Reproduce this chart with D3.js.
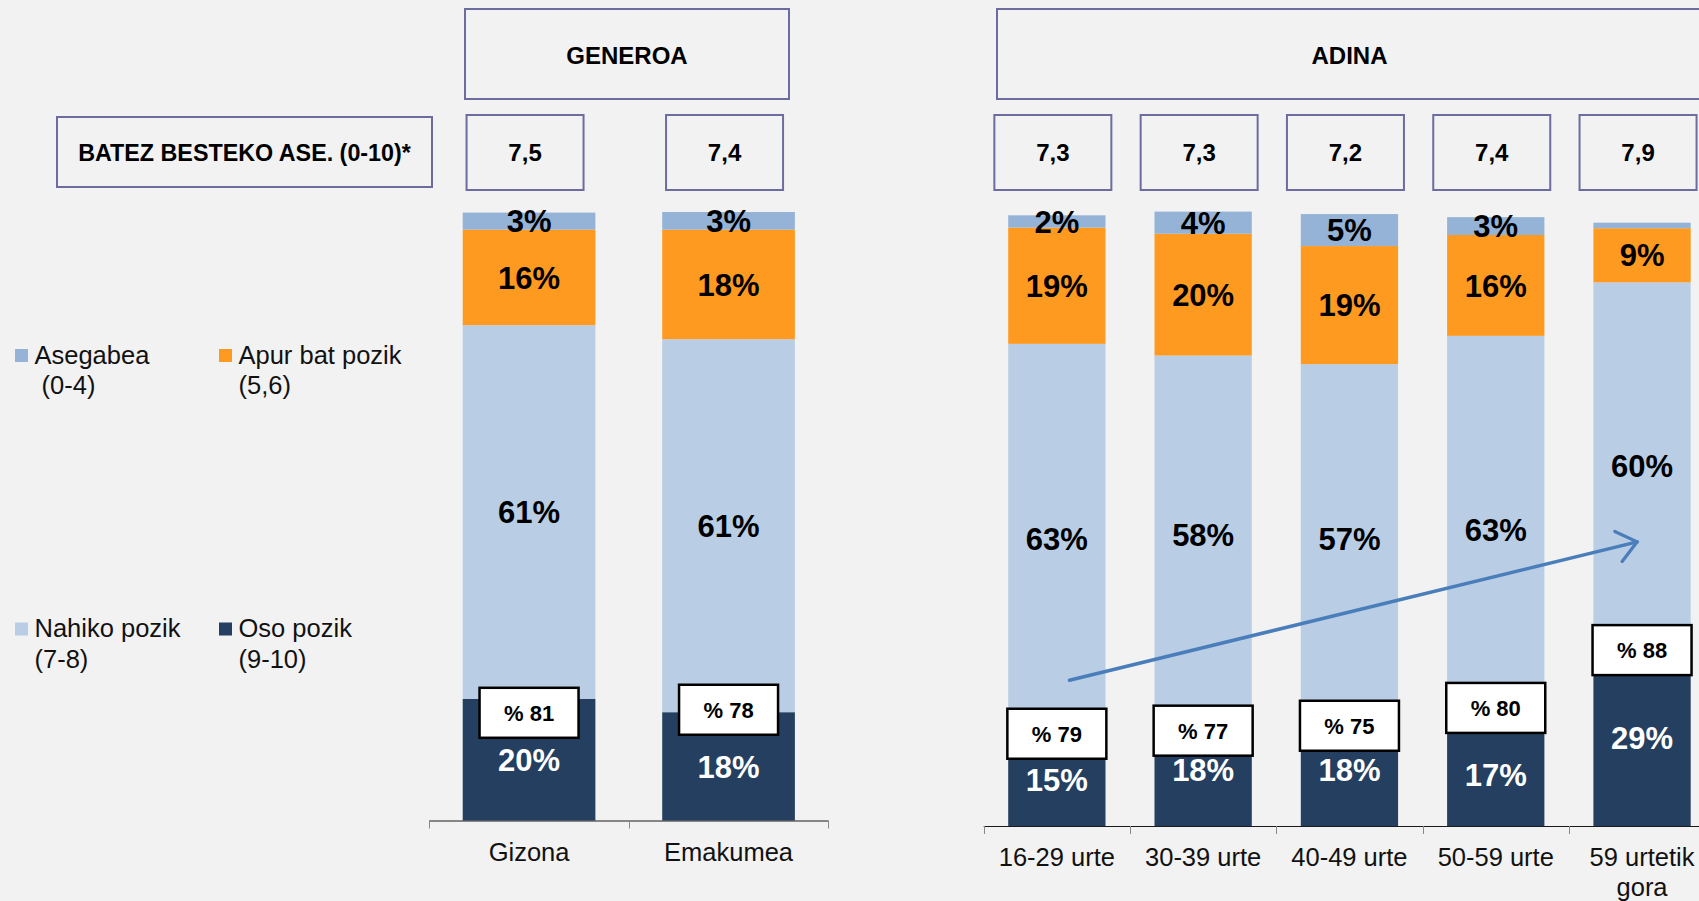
<!DOCTYPE html>
<html>
<head>
<meta charset="utf-8">
<script src="https://cdn.jsdelivr.net/npm/d3@7"></script>
<style>
  html, body { margin: 0; padding: 0; background: #F2F2F2; }
  svg { display: block; }
  text { font-family: "Liberation Sans", Arial, sans-serif; }
</style>
</head>
<body>
<svg id="chart" width="1699" height="901"></svg>
<script>
// ---------------- DATA ----------------
const seriesKeys = ["Oso pozik", "Nahiko pozik", "Apur bat pozik", "Asegabea"];

const genderCats = ["Gizona", "Emakumea"];
const genderAsegabea = [2.8, 2.9];
const genderApur = [15.7, 18.0];
const genderNahiko = [61.4, 61.3];
const genderOso = [20.0, 17.8];
const genderTotal = [81, 78];
const genderTotalAt = [17.7, 18.2];   // level (%) at which the "% NN" callout sits
const genderMean = ["7,5", "7,4"];

const ageCats = ["16-29 urte", "30-39 urte", "40-49 urte", "50-59 urte", "59 urtetik\ngora"];
const ageAsegabea = [2.0, 3.6, 5.2, 2.9, 0.9];
const ageApur = [18.9, 19.8, 19.2, 16.4, 8.8];
const ageNahiko = [63.4, 58.3, 56.8, 63.1, 59.6];
const ageOso = [15.0, 18.2, 18.3, 16.6, 28.8];
const ageTotal = [79, 77, 75, 80, 88];
const ageTotalAt = [15.0, 15.5, 16.3, 19.2, 28.6];
const ageMean = ["7,3", "7,3", "7,2", "7,4", "7,9"];

const legendItems = [
  { key: "Asegabea", l1: "Asegabea", l2: " (0-4)" },
  { key: "Apur bat pozik", l1: "Apur bat pozik", l2: "(5,6)" },
  { key: "Nahiko pozik", l1: "Nahiko pozik", l2: "(7-8)" },
  { key: "Oso pozik", l1: "Oso pozik", l2: "(9-10)" }
];

const groupTitles = ["GENEROA", "ADINA"];
const meanTitle = "BATEZ BESTEKO ASE. (0-10)*";

// ---------------- STYLE ----------------
const colors = {
  "Asegabea": "#95B3D7",
  "Apur bat pozik": "#FF9A21",
  "Nahiko pozik": "#B9CDE5",
  "Oso pozik": "#243F60"
};
const labelColor = { "Asegabea": "#000", "Apur bat pozik": "#000", "Nahiko pozik": "#000", "Oso pozik": "#fff" };
const boxStroke = "#6C6CA0";

const svg = d3.select("#chart");

function buildRows(cats, a, b, c, d) {
  return cats.map((cat, i) => ({
    cat,
    "Asegabea": a[i], "Apur bat pozik": b[i], "Nahiko pozik": c[i], "Oso pozik": d[i]
  }));
}

function drawPanel(cfg) {
  const g = svg.append("g");
  const x = d3.scaleBand().domain(cfg.cats).range(cfg.xRange)
    .paddingInner(0.335).paddingOuter(0.1675);
  const y = d3.scaleLinear().domain([0, 100]).range(cfg.yRange);
  const rows = buildRows(cfg.cats, cfg.aseg, cfg.apur, cfg.nahiko, cfg.oso);
  const stack = d3.stack().keys(seriesKeys)(rows);

  // bars
  const layers = g.selectAll("g.layer").data(stack).join("g")
    .attr("class", "layer").attr("fill", d => colors[d.key]);
  layers.selectAll("rect").data(d => d).join("rect")
    .attr("x", d => x(d.data.cat))
    .attr("width", x.bandwidth())
    .attr("y", d => y(d[1]))
    .attr("height", d => y(d[0]) - y(d[1]));

  // segment labels
  stack.forEach(layer => {
    g.selectAll(null).data(layer.filter(d => (d[1] - d[0]) >= 1.5)).join("text")
      .attr("x", d => x(d.data.cat) + x.bandwidth() / 2)
      .attr("y", d => (y(d[0]) + y(d[1])) / 2)
      .attr("dy", "0.36em")
      .attr("text-anchor", "middle")
      .attr("font-size", 31)
      .attr("font-weight", "bold")
      .attr("fill", labelColor[layer.key])
      .text(d => Math.round(d[1] - d[0]) + "%");
  });

  // axis line + boundary ticks
  const step = x.step();
  const r0 = cfg.xRange[0], r1 = cfg.xRange[1];
  const base = y(0);
  g.append("line").attr("x1", r0).attr("x2", r1).attr("y1", base + 0.5).attr("y2", base + 0.5)
    .attr("stroke", "#1a1a1a").attr("stroke-width", 1);
  d3.range(cfg.cats.length + 1).forEach(k => {
    const tx = Math.round(r0 + k * step) + 0.5;
    g.append("line").attr("x1", tx).attr("x2", tx).attr("y1", base).attr("y2", base + 8)
      .attr("stroke", "#888").attr("stroke-width", 1);
  });
  // category labels
  cfg.cats.forEach(cat => {
    const lines = cat.split("\n");
    const t = g.append("text")
      .attr("text-anchor", "middle")
      .attr("font-size", 25.5)
      .attr("fill", "#111");
    lines.forEach((ln, j) => {
      t.append("tspan").attr("x", x(cat) + x.bandwidth() / 2)
        .attr("y", cfg.labelBaseline + j * 30).text(ln);
    });
  });

  // total boxes "% NN"
  rows.forEach((r, i) => {
    const cx = x(r.cat) + x.bandwidth() / 2;
    const cy = y(cfg.totalAt[i]);
    g.append("rect").attr("x", cx - 49.5).attr("y", cy - 25).attr("width", 99).attr("height", 50)
      .attr("fill", "#fff").attr("stroke", "#000").attr("stroke-width", 2.5);
    g.append("text").attr("x", cx).attr("y", cy).attr("dy", "0.36em")
      .attr("text-anchor", "middle").attr("font-size", 22).attr("font-weight", "bold")
      .attr("fill", "#000").text("% " + cfg.totals[i]);
  });

  // mean boxes
  cfg.means.forEach((m, i) => {
    const cx = x(cfg.cats[i]) + x.bandwidth() / 2 - 4;
    g.append("rect").attr("x", cx - 58.5).attr("y", 115).attr("width", 117).attr("height", 75)
      .attr("fill", "none").attr("stroke", boxStroke).attr("stroke-width", 2);
    g.append("text").attr("x", cx).attr("y", 152.5).attr("dy", "0.36em")
      .attr("text-anchor", "middle").attr("font-size", 24).attr("font-weight", "bold")
      .attr("fill", "#000").text(m);
  });

  // group title box
  const gx0 = cfg.titleX[0], gx1 = cfg.titleX[1];
  g.append("rect").attr("x", gx0).attr("y", 9).attr("width", gx1 - gx0).attr("height", 90)
    .attr("fill", "none").attr("stroke", boxStroke).attr("stroke-width", 2);
  g.append("text").attr("x", (gx0 + gx1) / 2).attr("y", 55).attr("dy", "0.36em")
    .attr("text-anchor", "middle").attr("font-size", 24).attr("font-weight", "bold")
    .attr("fill", "#000").text(cfg.title);

  return { x, y };
}

const gScales = drawPanel({
  cats: genderCats, aseg: genderAsegabea, apur: genderApur, nahiko: genderNahiko, oso: genderOso,
  totals: genderTotal, totalAt: genderTotalAt, means: genderMean, title: groupTitles[0],
  xRange: [429.3, 828.3], yRange: [820.5, 212], labelBaseline: 861, titleX: [465, 789]
});

const aScales = drawPanel({
  cats: ageCats, aseg: ageAsegabea, apur: ageApur, nahiko: ageNahiko, oso: ageOso,
  totals: ageTotal, totalAt: ageTotalAt, means: ageMean, title: groupTitles[1],
  xRange: [983.7, 983.7 + 146.3 * 5], yRange: [826, 211], labelBaseline: 866, titleX: [997, 1702]
});

// mean title box
svg.append("rect").attr("x", 57).attr("y", 117).attr("width", 375).attr("height", 70)
  .attr("fill", "none").attr("stroke", boxStroke).attr("stroke-width", 2);
svg.append("text").attr("x", 244.5).attr("y", 152.5).attr("dy", "0.36em")
  .attr("text-anchor", "middle").attr("font-size", 23.3).attr("font-weight", "bold")
  .attr("fill", "#000").text(meanTitle);

// legend
const legPos = [[15, 363.5], [219, 363.5], [15, 637], [219, 637]];
legendItems.forEach((it, i) => {
  const [lx, ly] = legPos[i];
  svg.append("rect").attr("x", lx).attr("y", ly - 14.5).attr("width", 13).attr("height", 13)
    .attr("fill", colors[it.key]);
  const t = svg.append("text").attr("font-size", 25.5).attr("fill", "#111")
    .attr("xml:space", "preserve").style("white-space", "pre");
  t.append("tspan").attr("x", lx + 19.5).attr("y", ly).text(it.l1);
  t.append("tspan").attr("x", lx + 19.5).attr("y", ly + 30.5).text(it.l2);
});

// trend arrow
const defs = svg.append("defs");
defs.append("marker").attr("id", "chev").attr("viewBox", "-12 -10 14 20")
  .attr("refX", 0).attr("refY", 0).attr("markerWidth", 8).attr("markerHeight", 11)
  .attr("markerUnits", "strokeWidth").attr("orient", "auto")
  .append("path").attr("d", "M-10,-8 L0,0 L-10,8").attr("fill", "none")
  .attr("stroke", "#4A7EBB").attr("stroke-width", 1.7).attr("stroke-linecap", "round")
  .attr("stroke-linejoin", "round");
const ax = aScales.x, ay = aScales.y;
svg.append("line")
  .attr("x1", ax(ageCats[0]) + ax.bandwidth() * 0.63).attr("y1", ay(23.7))
  .attr("x2", ax(ageCats[4]) + ax.bandwidth() * 0.45).attr("y2", ay(46.2))
  .attr("stroke", "#4A7EBB").attr("stroke-width", 3.5).attr("stroke-linecap", "round")
  .attr("marker-end", "url(#chev)");
</script>
</body>
</html>
